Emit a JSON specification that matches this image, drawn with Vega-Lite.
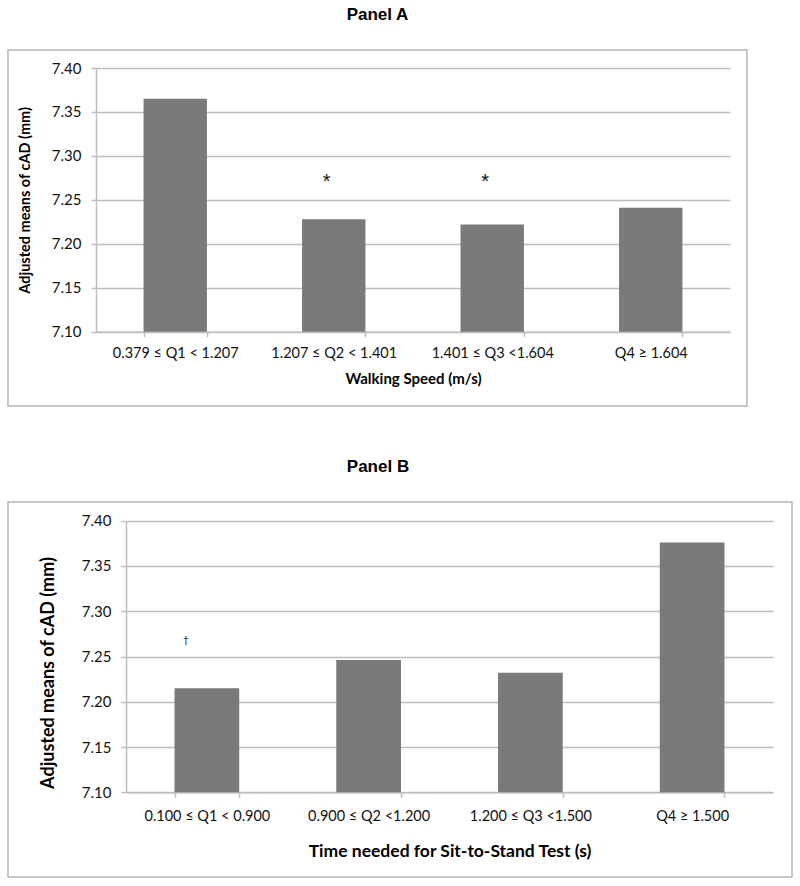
{
  "$schema": "https://vega.github.io/schema/vega-lite/v6.json",
  "padding": {"left": 7, "top": 5, "right": 0, "bottom": 0},
  "background": "white",
  "config": {
    "view": {"stroke": "#b5b5b5", "strokeWidth": 1.5},
    "axis": {"domainColor": "#bdbdbd", "tickColor": "#bdbdbd", "gridColor": "#bdbdbd", "domainWidth": 1.5, "gridWidth": 1.5, "tickWidth": 1.5, "labelFont": "Lato", "labelColor": "#111111", "titleFont": "Lato", "titleColor": "#000000", "titleFontWeight": "bold", "tickSize": 5},
    "title": {"font": "Liberation Sans", "fontWeight": "bold", "fontSize": 17, "color": "#000000", "anchor": "middle"},
    "concat": {"spacing": 50}
  },
  "vconcat": [
    {
      "width": 739,
      "height": 356,
      "title": {"text": "Panel A", "offset": 26},
      "data": {"values": [
        {"quartile": "0.379 ≤  Q1 < 1.207", "mean": 7.365},
        {"quartile": "1.207 ≤ Q2 < 1.401", "mean": 7.228, "note": "*", "notePos": 7.277},
        {"quartile": "1.401 ≤ Q3 <1.604", "mean": 7.222, "note": "*", "notePos": 7.277},
        {"quartile": "Q4 ≥ 1.604", "mean": 7.241}
      ]},
      "encoding": {
        "x": {"field": "quartile", "type": "nominal", "sort": null,
          "scale": {"range": [88, 722], "paddingInner": 0.6, "paddingOuter": 0.3},
          "axis": {"title": "Walking Speed (m/s)", "labelAngle": 0, "offset": -74.3, "tickBand": "extent", "labelFontSize": 14.5, "labelPadding": 10, "titleFontSize": 15, "titlePadding": 11, "grid": false}}
      },
      "layer": [
        {"mark": {"type": "bar", "color": "#7a7a7a"},
         "encoding": {
           "y": {"field": "mean", "type": "quantitative",
             "scale": {"domain": [7.1, 7.4], "range": [281.7, 18], "zero": false, "nice": false},
             "axis": {"title": "Adjusted means of cAD (mm)", "values": [7.1, 7.15, 7.2, 7.25, 7.3, 7.35, 7.4], "format": ".2f", "offset": -88, "labelFontSize": 15, "labelPadding": 10, "titleFontSize": 14.5, "titlePadding": 19, "grid": true}},
           "y2": {"datum": 7.1}
         }},
        {"transform": [{"filter": "datum.note"}],
         "mark": {"type": "text", "fontSize": 20, "font": "Liberation Sans", "dx": -7, "dy": 6, "baseline": "middle", "color": "#111111"},
         "encoding": {
           "y": {"field": "notePos", "type": "quantitative"},
           "text": {"field": "note"}
         }}
      ]
    },
    {
      "width": 784,
      "height": 375,
      "title": {"text": "Panel B", "offset": 26, "dx": -22},
      "data": {"values": [
        {"quartile": "0.100 ≤  Q1 < 0.900", "mean": 7.215, "note": "†", "notePos": 7.27},
        {"quartile": "0.900 ≤ Q2 <1.200", "mean": 7.246},
        {"quartile": "1.200 ≤ Q3 <1.500", "mean": 7.232},
        {"quartile": "Q4 ≥ 1.500", "mean": 7.376}
      ]},
      "encoding": {
        "x": {"field": "quartile", "type": "nominal", "sort": null,
          "scale": {"range": [118, 765], "paddingInner": 0.6, "paddingOuter": 0.3},
          "axis": {"title": "Time needed for Sit-to-Stand Test (s)", "labelAngle": 0, "offset": -84.7, "tickBand": "extent", "labelFontSize": 14.5, "labelPadding": 12, "titleFontSize": 17.5, "titlePadding": 20, "grid": false}}
      },
      "layer": [
        {"mark": {"type": "bar", "color": "#7a7a7a"},
         "encoding": {
           "y": {"field": "mean", "type": "quantitative",
             "scale": {"domain": [7.1, 7.4], "range": [290.3, 18.7], "zero": false, "nice": false},
             "axis": {"title": "Adjusted means of cAD (mm)", "values": [7.1, 7.15, 7.2, 7.25, 7.3, 7.35, 7.4], "format": ".2f", "offset": -118, "labelFontSize": 15, "labelPadding": 10, "titleFontSize": 18, "titlePadding": 24, "titleY": 170.5, "grid": true}},
           "y2": {"datum": 7.1}
         }},
        {"transform": [{"filter": "datum.note"}],
         "mark": {"type": "text", "fontSize": 10, "font": "Lato", "dx": -21, "dy": 2, "baseline": "middle", "color": "#111111"},
         "encoding": {
           "y": {"field": "notePos", "type": "quantitative"},
           "text": {"field": "note"}
         }}
      ]
    }
  ]
}
